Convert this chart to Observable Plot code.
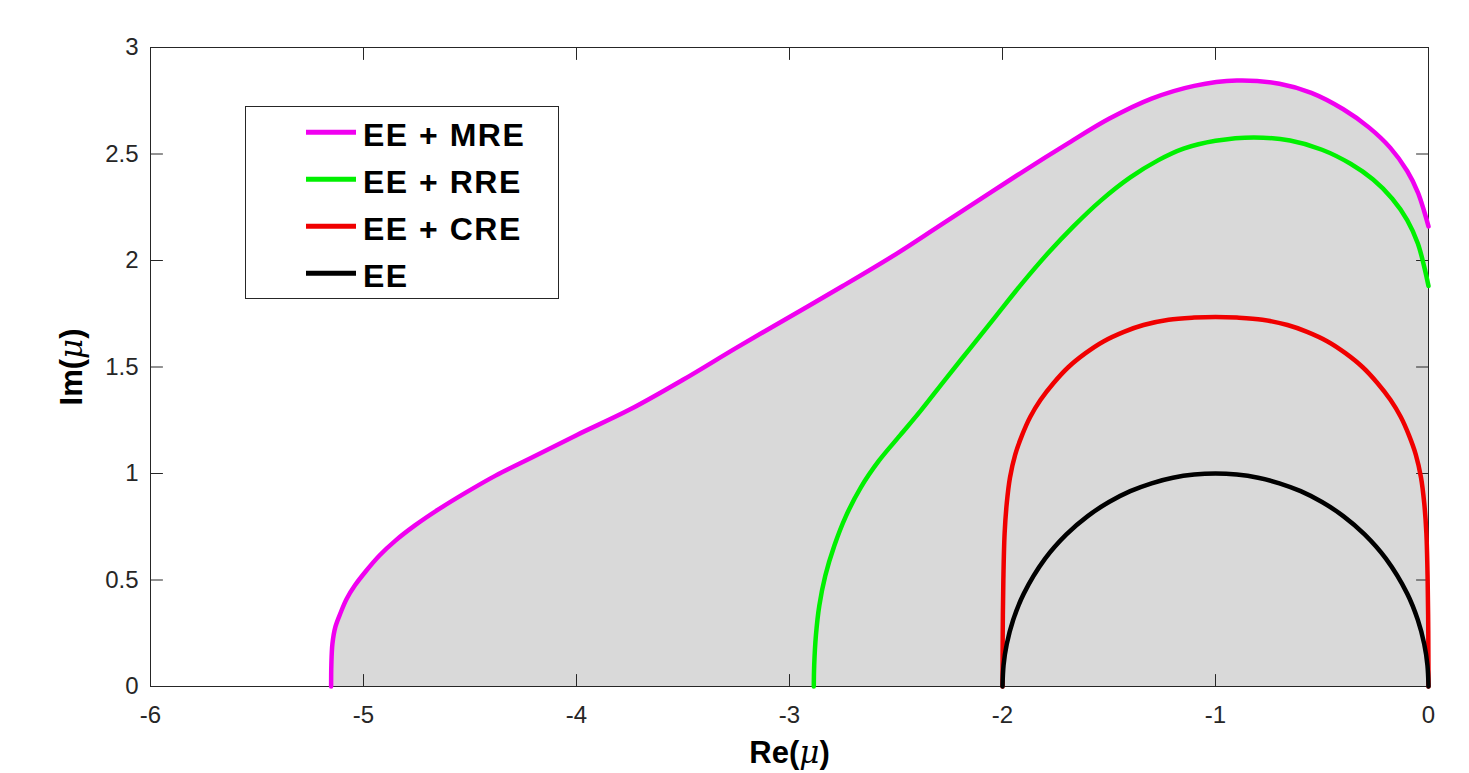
<!DOCTYPE html>
<html>
<head>
<meta charset="utf-8">
<script src="https://cdn.jsdelivr.net/npm/d3@7"></script>
<script src="https://cdn.jsdelivr.net/npm/@observablehq/plot@0.6"></script>
<style>
  body { margin: 0; background: #fff; }
  #wrap { position: relative; width: 1469px; height: 773px; }
</style>
</head>
<body>
<div id="wrap"></div>
<script>
// ---- data (Re(mu), Im(mu)) ----
const curveMRE = [[-5.152,0],[-5.151,0.1],[-5.146,0.2],[-5.132,0.28],[-5.108,0.345],[-5.08,0.41],[-5.04,0.475],[-4.99,0.54],[-4.925,0.615],[-4.85,0.685],[-4.76,0.755],[-4.65,0.83],[-4.52,0.91],[-4.38,0.99],[-4.2,1.08],[-4.0,1.18],[-3.75,1.3],[-3.5,1.44],[-3.25,1.59],[-3.0,1.735],[-2.75,1.88],[-2.5,2.03],[-2.3,2.16],[-2.1,2.29],[-1.9,2.42],[-1.7,2.545],[-1.5,2.665],[-1.3,2.76],[-1.1,2.82],[-0.9,2.845],[-0.7,2.83],[-0.55,2.787],[-0.4,2.71],[-0.28,2.625],[-0.18,2.53],[-0.1,2.42],[-0.05,2.32],[-0.02,2.23],[0,2.16]];
const curveRRE = [[-2.886,0],[-2.884,0.1],[-2.876,0.24],[-2.86,0.38],[-2.832,0.52],[-2.79,0.66],[-2.735,0.8],[-2.665,0.935],[-2.58,1.06],[-2.48,1.18],[-2.38,1.3],[-2.27,1.44],[-2.15,1.59],[-2.03,1.74],[-1.91,1.89],[-1.79,2.03],[-1.667,2.16],[-1.54,2.28],[-1.4,2.39],[-1.27,2.47],[-1.15,2.525],[-1.0,2.562],[-0.82,2.578],[-0.65,2.563],[-0.5,2.52],[-0.366,2.454],[-0.26,2.38],[-0.17,2.29],[-0.1,2.19],[-0.05,2.08],[-0.02,1.97],[0,1.88]];
const curveCRE = [[-2.0,0],[-1.999,0.25],[-1.996,0.5],[-1.99,0.72],[-1.98,0.86],[-1.965,0.98],[-1.94,1.09],[-1.908,1.18],[-1.87,1.265],[-1.822,1.345],[-1.76,1.425],[-1.69,1.5],[-1.61,1.565],[-1.526,1.62],[-1.43,1.665],[-1.338,1.697],[-1.22,1.722],[-1.1,1.732],[-1.0,1.735],[-0.9,1.732],[-0.78,1.722],[-0.662,1.697],[-0.57,1.665],[-0.474,1.62],[-0.39,1.565],[-0.31,1.5],[-0.24,1.425],[-0.178,1.345],[-0.13,1.265],[-0.092,1.18],[-0.06,1.09],[-0.035,0.98],[-0.02,0.86],[-0.01,0.72],[-0.004,0.5],[-0.001,0.25],[0,0]];
const curveEE = [[-2,0],[-1.995,0.1],[-1.98,0.199],[-1.95,0.312],[-1.9,0.436],[-1.8,0.6],[-1.7,0.714],[-1.6,0.8],[-1.5,0.866],[-1.4,0.917],[-1.3,0.954],[-1.2,0.98],[-1.1,0.995],[-1.0,1.0],[-0.9,0.995],[-0.8,0.98],[-0.7,0.954],[-0.6,0.917],[-0.5,0.866],[-0.4,0.8],[-0.3,0.714],[-0.2,0.6],[-0.1,0.436],[-0.05,0.312],[-0.02,0.199],[-0.005,0.1],[0,0]];

const seriesNames = ["EE + MRE", "EE + RRE", "EE + CRE", "EE"];
const seriesColors = ["#f000f0", "#00f000", "#f00000", "#000000"];
const seriesData = [curveMRE, curveRRE, curveCRE, curveEE];

const xTicks = [-6, -5, -4, -3, -2, -1, 0];
const yTicks = [0, 0.5, 1, 1.5, 2, 2.5, 3];
const xLabel = "Re(μ)";
const yLabel = "Im(μ)";

const FONT = '"Liberation Sans", Arial, Helvetica, sans-serif';
const AXIS = "#262626";

// inward tick shape for Plot.vector
const tickShape = { draw(ctx, l) { ctx.moveTo(0, 0); ctx.lineTo(0, -l); } };
const tickOpts = { length: 12, anchor: "start", shape: tickShape, stroke: AXIS, strokeWidth: 1 };

const lineMarks = seriesData.map((d, i) =>
  Plot.line(d, { x: p => p[0], y: p => p[1], stroke: seriesColors[i], strokeWidth: 4.5, curve: "catmull-rom" })
);

const chart = Plot.plot({
  width: 1469,
  height: 773,
  marginLeft: 150,
  marginRight: 41,
  marginTop: 47,
  marginBottom: 87,
  style: { fontFamily: FONT, fontSize: "24px", color: AXIS, background: "#fff" },
  x: { domain: [-6, 0] },
  y: { domain: [0, 3] },
  marks: [
    Plot.areaY(curveMRE, { x: p => p[0], y: p => p[1], fill: "#d9d9d9", curve: "catmull-rom" }),
    Plot.vector(xTicks, { x: d => d, y: () => 0, rotate: 0, ...tickOpts }),
    Plot.vector(xTicks, { x: d => d, y: () => 3, rotate: 180, ...tickOpts }),
    Plot.vector(yTicks, { x: () => -6, y: d => d, rotate: 90, ...tickOpts }),
    Plot.vector(yTicks, { x: () => 0, y: d => d, rotate: -90, ...tickOpts }),
    Plot.axisX({ ticks: xTicks, tickSize: 0, tickPadding: 19, tickFormat: d => String(d), label: null }),
    Plot.axisY({ ticks: yTicks, tickSize: 0, tickPadding: 12, tickFormat: d => String(d), label: null }),
    Plot.frame({ stroke: AXIS, strokeWidth: 1 }),
    ...lineMarks,
    Plot.text([xLabel], { text: d => d, frameAnchor: "bottom", dy: 67, fontSize: 31, fontWeight: "bold", textAnchor: "middle", lineAnchor: "middle", fill: "#000" }),
    Plot.text([yLabel], { text: d => d, frameAnchor: "left", dx: -78, rotate: -90, fontSize: 31, fontWeight: "bold", textAnchor: "middle", lineAnchor: "middle", fill: "#000" })
  ]
});

document.getElementById("wrap").appendChild(chart);

// italic mu in axis labels
const svg = d3.select(chart);
svg.selectAll("text").filter(function () { return this.textContent === xLabel || this.textContent === yLabel; })
  .each(function () {
    const t = d3.select(this);
    const s = this.textContent;
    const pre = s.slice(0, s.indexOf("μ"));
    t.text(null);
    t.append("tspan").text(pre);
    t.append("tspan").attr("font-style", "italic").attr("font-weight", "normal").attr("font-family", '"DejaVu Serif", "Liberation Serif", serif').text("μ");
    t.append("tspan").text(")");
  });

// legend
const lg = svg.append("g").attr("font-family", FONT).attr("text-anchor", "start");
lg.append("rect").attr("x", 245.5).attr("y", 106.5).attr("width", 313).attr("height", 192)
  .attr("fill", "#fff").attr("stroke", AXIS).attr("stroke-width", 1);
seriesNames.forEach((name, i) => {
  const cy = 132.3 + i * 47;
  lg.append("line").attr("x1", 306).attr("x2", 356).attr("y1", cy).attr("y2", cy)
    .attr("stroke", seriesColors[i]).attr("stroke-width", 5);
  lg.append("text").attr("x", 363).attr("y", cy + 14).attr("font-size", 32).attr("font-weight", "bold")
    .attr("letter-spacing", 1.5).attr("text-anchor", "start")
    .attr("fill", "#000").text(name);
});
</script>
</body>
</html>
